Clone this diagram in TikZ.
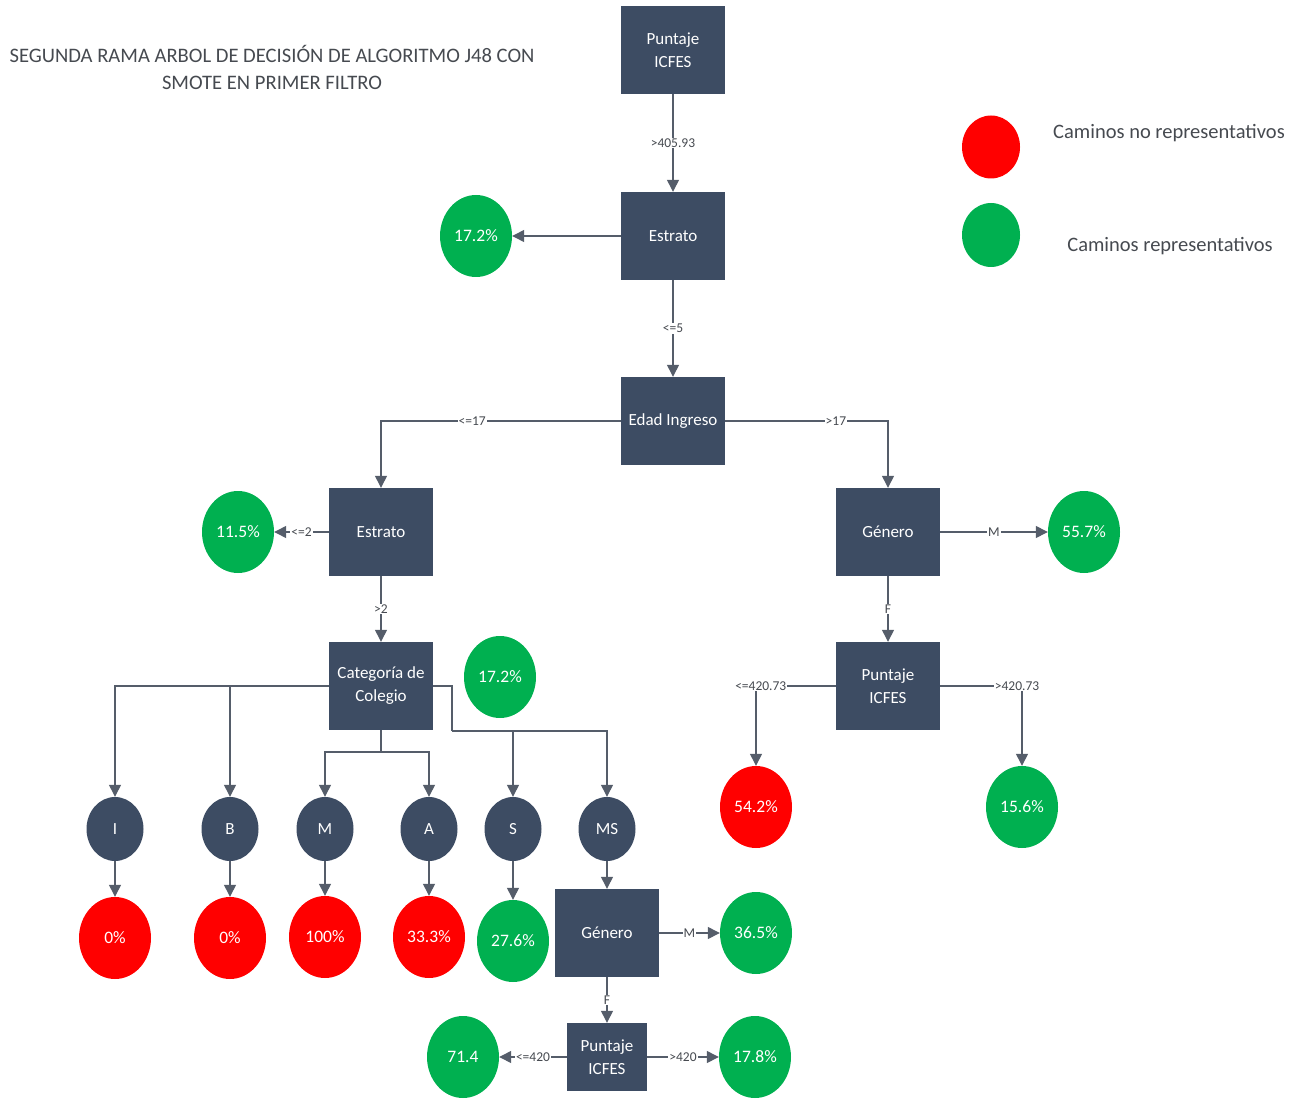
\documentclass[tikz,border=0pt]{standalone}
\usepackage{fontspec}
\setmainfont{Carlito}
\usetikzlibrary{shapes.geometric,arrows.meta}
\definecolor{boxblue}{RGB}{61,76,99}
\definecolor{linegray}{RGB}{85,93,106}
\definecolor{leafred}{RGB}{255,0,0}
\definecolor{leafgreen}{RGB}{0,176,80}
\definecolor{txtgray}{RGB}{70,74,80}
\begin{document}
\begin{tikzpicture}[x=1pt,y=-1pt,
  decision/.style={rectangle,fill=boxblue,draw=none,minimum width=104pt,minimum height=88pt,
    inner sep=0pt,text=white,font=\fontsize{17}{23}\selectfont,align=center},
  smalldecision/.style={decision,minimum width=80pt,minimum height=68pt},
  leaf/.style={ellipse,draw=none,minimum width=72pt,minimum height=82pt,inner sep=0pt,
    text=white,font=\fontsize{17.5}{20}\selectfont},
  goodleaf/.style={leaf,fill=leafgreen},
  badleaf/.style={leaf,fill=leafred},
  category/.style={ellipse,fill=boxblue,draw=none,minimum width=57pt,minimum height=64pt,
    inner sep=0pt,text=white,font=\fontsize{17}{20}\selectfont},
  conn/.style={draw=linegray,line width=1.3pt,-{Triangle[width=12pt,length=12pt]},color=linegray},
  plain/.style={draw=linegray,line width=1.3pt},
  lbl/.style={fill=white,inner sep=1pt,text=txtgray,font=\fontsize{13.5}{15}\selectfont},
  legendtext/.style={text=txtgray,font=\fontsize{20.5}{24}\selectfont}
]
\useasboundingbox (0,0) rectangle (1304,1099);

% title
\node[text=txtgray,font=\fontsize{20.6}{27}\selectfont,align=center] (title) at (272,67)
  {SEGUNDA RAMA ARBOL DE DECISIÓN DE ALGORITMO J48 CON\\SMOTE EN PRIMER FILTRO};

% legend
\node[badleaf,minimum width=58pt,minimum height=63pt] (legbad) at (991,147) {};
\node[goodleaf,minimum width=58pt,minimum height=64pt] (leggood) at (991,235) {};
\node[legendtext] (legbadtxt) at (1169,133) {Caminos no representativos};
\node[legendtext] (leggoodtxt) at (1170,246) {Caminos representativos};

% decision nodes
\node[decision] (p1) at (673,50) {Puntaje\\ICFES};
\node[decision] (e1) at (673,236) {Estrato};
\node[decision] (edad) at (673,421) {Edad Ingreso};
\node[decision] (e2) at (381,532) {Estrato};
\node[decision] (g1) at (888,532) {Género};
\node[decision] (cat) at (381,686) {Categoría de\\Colegio};
\node[decision] (p2) at (888,686) {Puntaje\\ICFES};
\node[decision] (g2) at (607,933) {Género};
\node[smalldecision] (p3) at (607,1057) {Puntaje\\ICFES};

% leaves
\node[goodleaf] (l172a) at (476,236) {17.2\%};
\node[goodleaf] (l115) at (238,532) {11.5\%};
\node[goodleaf] (l557) at (1084,532) {55.7\%};
\node[goodleaf] (l172b) at (500,677) {17.2\%};
\node[badleaf] (l542) at (756,807) {54.2\%};
\node[goodleaf] (l156) at (1022,807) {15.6\%};

% school categories
\node[category] (ci) at (115,829) {I};
\node[category] (cb) at (230,829) {B};
\node[category] (cm) at (325,829) {M};
\node[category] (ca) at (429,829) {A};
\node[category] (cs) at (513,829) {S};
\node[category] (cms) at (607,829) {MS};

\node[badleaf] (li) at (115,938) {0\%};
\node[badleaf] (lb) at (230,938) {0\%};
\node[badleaf] (lm) at (325,937) {100\%};
\node[badleaf] (la) at (429,937) {33.3\%};
\node[goodleaf] (ls) at (513,941) {27.6\%};
\node[goodleaf] (l365) at (756,933) {36.5\%};
\node[goodleaf] (l714) at (463,1057) {71.4};
\node[goodleaf] (l178) at (755,1057) {17.8\%};

% junction points of the category branches
\coordinate (catj) at (381,752);
\coordinate (catr1) at (452,686);
\coordinate (catr2) at (452,731);

% connectors
\draw[conn] (p1.south) -- node[lbl]{>405.93} (e1.north);
\draw[conn] (e1.west) -- (l172a.east);
\draw[conn] (e1.south) -- node[lbl]{<=5} (edad.north);
\draw[conn] (edad.west) -| node[lbl,pos=0.31]{<=17} (e2.north);
\draw[conn] (edad.east) -| node[lbl,pos=0.34]{>17} (g1.north);
\draw[conn] (e2.west) -- node[lbl]{<=2} (l115.east);
\draw[conn] (e2.south) -- node[lbl]{>2} (cat.north);
\draw[conn] (g1.east) -- node[lbl]{M} (l557.west);
\draw[conn] (g1.south) -- node[lbl]{F} (p2.north);
\draw[conn] (p2.west) -| node[lbl,pos=0.47]{<=420.73} (l542.north);
\draw[conn] (p2.east) -| node[lbl,pos=0.47]{>420.73} (l156.north);

\draw[conn] (cat.west) -| (ci.north);
\draw[conn] (cat.west) -| (cb.north);
\draw[plain] (cat.south) -- (catj);
\draw[conn] (catj) -| (cm.north);
\draw[conn] (catj) -| (ca.north);
\draw[plain] (cat.east) -- (catr1) -- (catr2);
\draw[conn] (catr2) -| (cs.north);
\draw[conn] (catr2) -| (cms.north);

\draw[conn] (ci.south) -- (li.north);
\draw[conn] (cb.south) -- (lb.north);
\draw[conn] (cm.south) -- (lm.north);
\draw[conn] (ca.south) -- (la.north);
\draw[conn] (cs.south) -- (ls.north);
\draw[conn] (cms.south) -- (g2.north);

\draw[conn] (g2.east) -- node[lbl]{M} (l365.west);
\draw[conn] (g2.south) -- node[lbl]{F} (p3.north);
\draw[conn] (p3.west) -- node[lbl]{<=420} (l714.east);
\draw[conn] (p3.east) -- node[lbl]{>420} (l178.west);
\end{tikzpicture}
\end{document}
